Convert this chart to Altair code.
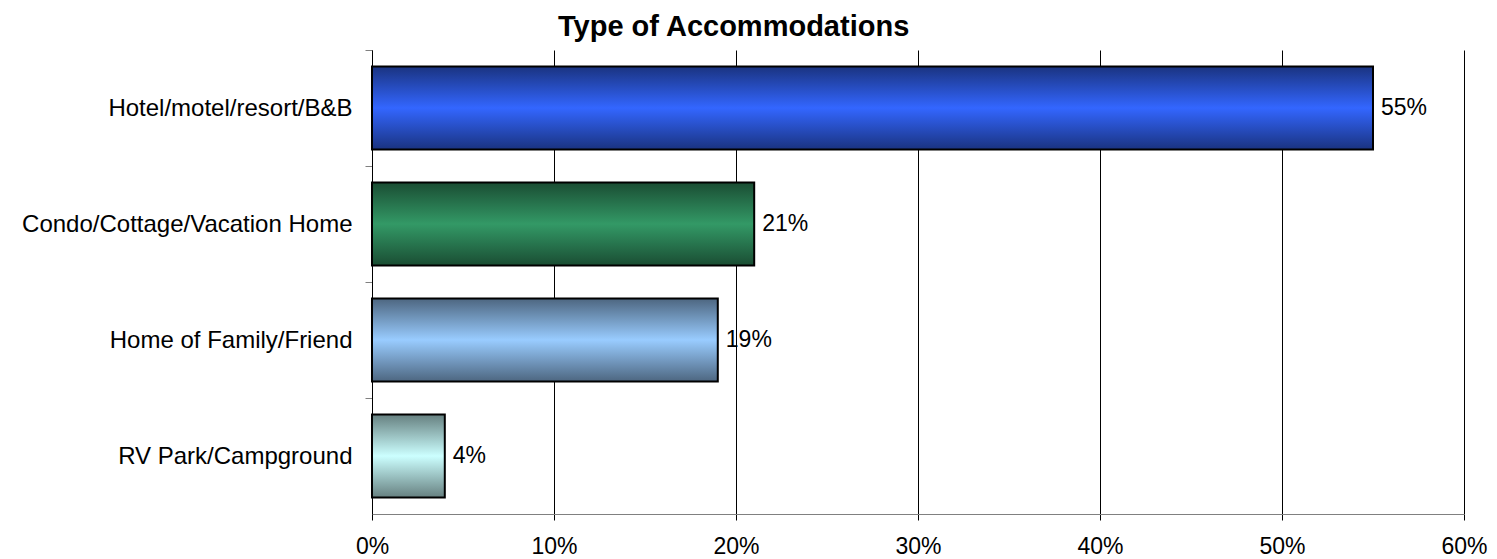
import altair as alt
import pandas as pd

categories = ["Hotel/motel/resort/B&B", "Condo/Cottage/Vacation Home\u00a0",
              "Home of Family/Friend", "RV Park/Campground"]
values = [55, 21, 19, 4]
center_colors = ["#3366FF", "#339966", "#99CCFF", "#CCFFFF"]
edge_colors = ["#1A3380", "#1A4D33", "#4D6680", "#668080"]
x_ticks = [0, 10, 20, 30, 40, 50, 60]

df = pd.DataFrame({"cat": categories, "value": values})

FONT = "Liberation Sans"

y_scale = alt.Scale(domain=categories, paddingInner=0.284, paddingOuter=0.142)
x_scale = alt.Scale(domain=[0, 60], nice=False)

y_enc = alt.Y(
    "cat:N",
    title=None,
    scale=y_scale,
    axis=alt.Axis(
        labelFont=FONT, labelFontSize=24, labelColor="black",
        labelPadding=13, tickSize=7, tickColor="#808080",
        domainColor="black", grid=False, tickOffset=-58, labelOffset=58,
        labelLimit=400,
    ),
)
x_enc = alt.X(
    "value:Q",
    title=None,
    scale=x_scale,
    axis=alt.Axis(
        values=x_ticks, labelExpr="datum.value + '%'",
        labelFont=FONT, labelFontSize=23, labelColor="black",
        labelPadding=15, tickSize=6, tickColor="black", labelFlush=False,
        domainColor="#808080", grid=True, gridColor="black",
        gridOpacity=1, gridWidth=1,
    ),
)

layers = []
for cat, cc, ec in zip(categories, center_colors, edge_colors):
    grad = alt.LinearGradient(
        gradient="linear", x1=0, y1=0, x2=0, y2=1,
        stops=[
            alt.GradientStop(color=ec, offset=0),
            alt.GradientStop(color=cc, offset=0.5),
            alt.GradientStop(color=ec, offset=1),
        ],
    )
    layer = (
        alt.Chart(df)
        .transform_filter(alt.datum.cat == cat)
        .mark_bar(fill=grad, stroke="black", strokeWidth=2, opacity=1)
        .encode(x=x_enc, y=y_enc)
    )
    layers.append(layer)

text = (
    alt.Chart(df)
    .transform_calculate(label="datum.value + '%'")
    .mark_text(align="left", baseline="middle", dx=8, font=FONT,
               fontSize=23, color="black")
    .encode(x=x_enc, y=y_enc, text="label:N")
)

chart = (
    alt.layer(*layers, text)
    .properties(
        width=1092, height=464,
        background="white",
        autosize=alt.AutoSizeParams(type="none"),
        padding={"left": 364, "top": 42, "right": 25, "bottom": 45},
        title=alt.TitleParams(
            "Type of Accommodations", font=FONT, fontSize=29,
            fontWeight="bold", color="black", anchor="start",
            frame="group", dx=186, offset=8,
        ),
    )
    .configure_view(stroke="transparent", strokeWidth=0)
)

chart.save("out.html", embed_options={"renderer": "svg", "actions": False})
